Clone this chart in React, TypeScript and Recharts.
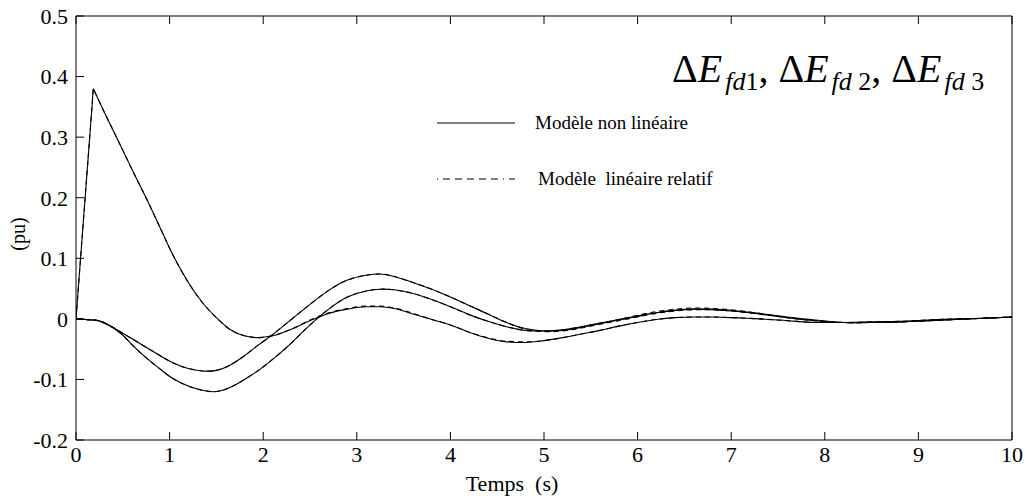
import React from 'react';
import { LineChart, Line, XAxis, YAxis } from 'recharts';

const timeS = [0, 0.1, 0.175, 0.185, 0.2, 0.3, 0.47, 0.6, 0.77, 0.9, 1.04, 1.2, 1.35, 1.5, 1.65, 1.8, 1.95, 2.1, 2.3, 2.5, 2.7, 2.9, 3.1, 3.25, 3.4, 3.6, 3.8, 4.0, 4.2, 4.4, 4.6, 4.8, 5.0, 5.2, 5.4, 5.6, 5.8, 6.0, 6.2, 6.4, 6.6, 6.8, 7.0, 7.3, 7.6, 7.9, 8.2, 8.5, 8.8, 9.1, 9.4, 9.7, 10];

// Modèle non linéaire
const efd1NL = [0, 0.205, 0.359, 0.38, 0.375, 0.342, 0.288, 0.246, 0.193, 0.15, 0.104, 0.06, 0.027, 0.002, -0.018, -0.028, -0.031, -0.028, -0.017, -0.003, 0.009, 0.016, 0.02, 0.02, 0.017, 0.008, -0.001, -0.01, -0.022, -0.032, -0.038, -0.039, -0.036, -0.031, -0.025, -0.019, -0.012, -0.006, -0.001, 0.002, 0.003, 0.003, 0.002, 0.0, -0.003, -0.006, -0.006, -0.005, -0.004, -0.002, 0.0, 0.001, 0.003];
const efd2NL = [0, -0.001, -0.002, -0.002, -0.002, -0.006, -0.021, -0.033, -0.049, -0.061, -0.073, -0.082, -0.086, -0.085, -0.076, -0.061, -0.043, -0.026, -0.001, 0.024, 0.047, 0.064, 0.072, 0.074, 0.07, 0.06, 0.049, 0.036, 0.022, 0.008, -0.006, -0.016, -0.02, -0.019, -0.014, -0.008, -0.002, 0.004, 0.01, 0.014, 0.016, 0.016, 0.014, 0.009, 0.003, -0.002, -0.006, -0.006, -0.005, -0.003, -0.001, 0.001, 0.003];
const efd3NL = [0, -0.001, -0.002, -0.002, -0.002, -0.007, -0.023, -0.043, -0.067, -0.083, -0.099, -0.111, -0.118, -0.12, -0.113, -0.1, -0.085, -0.067, -0.04, -0.01, 0.016, 0.036, 0.046, 0.049, 0.048, 0.042, 0.032, 0.02, 0.007, -0.004, -0.013, -0.019, -0.02, -0.018, -0.013, -0.007, -0.001, 0.005, 0.01, 0.014, 0.016, 0.015, 0.013, 0.008, 0.002, -0.003, -0.006, -0.006, -0.005, -0.003, -0.001, 0.001, 0.003];

// Modèle linéaire relatif
const efd1L = [0, 0.205, 0.359, 0.38, 0.375, 0.342, 0.288, 0.246, 0.193, 0.15, 0.104, 0.06, 0.027, 0.002, -0.018, -0.028, -0.031, -0.028, -0.017, -0.002, 0.01, 0.017, 0.021, 0.021, 0.018, 0.009, -0.001, -0.01, -0.022, -0.031, -0.037, -0.038, -0.036, -0.031, -0.025, -0.019, -0.012, -0.006, -0.001, 0.002, 0.003, 0.003, 0.002, 0.0, -0.003, -0.006, -0.006, -0.005, -0.004, -0.002, 0.0, 0.001, 0.003];
const efd2L = [0, -0.001, -0.002, -0.002, -0.002, -0.006, -0.021, -0.033, -0.049, -0.061, -0.073, -0.082, -0.086, -0.085, -0.076, -0.061, -0.043, -0.026, -0.001, 0.024, 0.047, 0.064, 0.072, 0.074, 0.07, 0.06, 0.049, 0.036, 0.022, 0.008, -0.006, -0.017, -0.021, -0.02, -0.015, -0.009, -0.003, 0.003, 0.009, 0.013, 0.015, 0.015, 0.013, 0.008, 0.002, -0.003, -0.006, -0.006, -0.005, -0.003, -0.001, 0.001, 0.003];
const efd3L = [0, -0.001, -0.002, -0.002, -0.002, -0.007, -0.023, -0.043, -0.067, -0.083, -0.099, -0.111, -0.118, -0.12, -0.113, -0.1, -0.085, -0.067, -0.04, -0.01, 0.016, 0.036, 0.046, 0.049, 0.048, 0.042, 0.032, 0.02, 0.007, -0.004, -0.013, -0.019, -0.02, -0.018, -0.013, -0.007, -0.001, 0.006, 0.012, 0.016, 0.018, 0.017, 0.015, 0.009, 0.002, -0.003, -0.006, -0.006, -0.005, -0.003, -0.001, 0.001, 0.003];

const xTicks = [0, 1, 2, 3, 4, 5, 6, 7, 8, 9, 10];
const yTicks = [-0.2, -0.1, 0, 0.1, 0.2, 0.3, 0.4, 0.5];
const yTickLabels = ['-0.2', '-0.1', '0', '0.1', '0.2', '0.3', '0.4', '0.5'];

const legendLabels = ['Modèle non linéaire', 'Modèle  linéaire relatif'];
const xLabel = 'Temps  (s)';
const yLabel = '(pu)';

const data = timeS.map((t, i) => ({
  t,
  n1: efd1NL[i], n2: efd2NL[i], n3: efd3NL[i],
  l1: efd1L[i], l2: efd2L[i], l3: efd3L[i],
}));

const FONT = '"Liberation Serif", "Times New Roman", Times, serif';
const TICK_FS = 22;
const TM = 6;
const TL = 8;

const fmtY = (v: number) => {
  const idx = yTicks.findIndex((y) => Math.abs(y - v) < 1e-9);
  return idx >= 0 ? yTickLabels[idx] : String(v);
};

const txtStyle = { fontFamily: FONT };

const LeftTick = (props: any) => {
  const { x, y, payload } = props;
  const ax = x + TM;
  return (
    <g>
      <line x1={ax} x2={ax + TL} y1={y} y2={y} stroke="#000" strokeWidth={1} />
      <text x={x - 2} y={y} dy="0.36em" textAnchor="end" style={txtStyle} fontSize={TICK_FS} fill="#000">
        {fmtY(payload.value)}
      </text>
    </g>
  );
};

const RightTick = (props: any) => {
  const { x, y } = props;
  return <line x1={x - TL} x2={x} y1={y} y2={y} stroke="#000" strokeWidth={1} />;
};

const BottomTick = (props: any) => {
  const { x, y, payload } = props;
  const ay = y - TM;
  return (
    <g>
      <line x1={x} x2={x} y1={ay} y2={ay - TL} stroke="#000" strokeWidth={1} />
      <text x={x} y={y} dy="0.72em" textAnchor="middle" style={txtStyle} fontSize={TICK_FS} fill="#000">
        {String(payload.value)}
      </text>
    </g>
  );
};

const TopTick = (props: any) => {
  const { x, y } = props;
  return <line x1={x} x2={x} y1={y} y2={y + TL} stroke="#000" strokeWidth={1} />;
};

const series = [
  { key: 'n1', dash: undefined, curve: 'monotone' },
  { key: 'n2', dash: undefined, curve: 'natural' },
  { key: 'n3', dash: undefined, curve: 'natural' },
  { key: 'l1', dash: '5 4', curve: 'monotone' },
  { key: 'l2', dash: '5 4', curve: 'natural' },
  { key: 'l3', dash: '5 4', curve: 'natural' },
];

export default function App() {
  return (
    <div style={{ position: 'absolute', left: 0, top: 0, width: 1026, height: 499, background: '#fff' }}>
      <LineChart width={1026} height={499} data={data} margin={{ top: 0, right: 0, bottom: 0, left: 0 }}>
        <XAxis
          xAxisId="b"
          dataKey="t"
          type="number"
          domain={[0, 10]}
          ticks={xTicks}
          interval={0}
          height={59}
          tickSize={0}
          tickMargin={TM}
          tickLine={false}
          axisLine={{ stroke: '#000' }}
          tick={<BottomTick />}
          allowDataOverflow
        />
        <XAxis
          xAxisId="top"
          orientation="top"
          dataKey="t"
          type="number"
          domain={[0, 10]}
          ticks={xTicks}
          interval={0}
          height={16}
          tickSize={0}
          tickMargin={0}
          tickLine={false}
          axisLine={{ stroke: '#000' }}
          tick={<TopTick />}
        />
        <YAxis
          yAxisId="l"
          type="number"
          domain={[-0.2, 0.5]}
          ticks={yTicks}
          interval={0}
          width={76}
          tickSize={0}
          tickMargin={TM}
          tickLine={false}
          axisLine={{ stroke: '#000' }}
          tick={<LeftTick />}
          allowDataOverflow
        />
        <YAxis
          yAxisId="r"
          orientation="right"
          type="number"
          domain={[-0.2, 0.5]}
          ticks={yTicks}
          interval={0}
          width={14}
          tickSize={0}
          tickMargin={0}
          tickLine={false}
          axisLine={{ stroke: '#000' }}
          tick={<RightTick />}
        />
        {series.map((s) => (
          <Line
            key={s.key}
            xAxisId="b"
            yAxisId="l"
            dataKey={s.key}
            type={s.curve as any}
            stroke="#000"
            strokeWidth={1.1}
            strokeDasharray={s.dash}
            dot={false}
            activeDot={false}
            isAnimationActive={false}
          />
        ))}
      </LineChart>
      <svg
        width={1026}
        height={499}
        style={{ position: 'absolute', left: 0, top: 0, pointerEvents: 'none', fontFamily: FONT }}
      >
        <text x={672} y={82} fontSize={40} fill="#000" style={txtStyle}>
          <tspan>Δ</tspan>
          <tspan fontStyle="italic">E</tspan>
          <tspan dx={3} dy={8} fontSize={26} fontStyle="italic">fd</tspan>
          <tspan fontSize={26}>1</tspan>
          <tspan dy={-8}>, Δ</tspan>
          <tspan fontStyle="italic">E</tspan>
          <tspan dx={3} dy={8} fontSize={26} fontStyle="italic">fd</tspan>
          <tspan fontSize={26}> 2</tspan>
          <tspan dy={-8}>, Δ</tspan>
          <tspan fontStyle="italic">E</tspan>
          <tspan dx={3} dy={8} fontSize={26} fontStyle="italic">fd</tspan>
          <tspan fontSize={26}> 3</tspan>
        </text>
        <line x1={437} x2={515} y1={123} y2={123} stroke="#000" strokeWidth={1} />
        <text x={535} y={129} fontSize={19} fill="#000" style={{ ...txtStyle, whiteSpace: 'pre' }}>{legendLabels[0]}</text>
        <line x1={437} x2={515} y1={179} y2={179} stroke="#000" strokeWidth={1} strokeDasharray="1 5 7 5 7 5 7 5 7 5 7 5" />
        <text x={538} y={185} fontSize={19} fill="#000" style={{ ...txtStyle, whiteSpace: 'pre' }}>{legendLabels[1]}</text>
        <text x={512} y={491} textAnchor="middle" fontSize={22} fill="#000" style={{ ...txtStyle, whiteSpace: 'pre' }}>{xLabel}</text>
        <text x={0} y={0} transform="translate(25,234) rotate(-90)" textAnchor="middle" fontSize={20} fill="#000" style={txtStyle}>{yLabel}</text>
      </svg>
    </div>
  );
}
